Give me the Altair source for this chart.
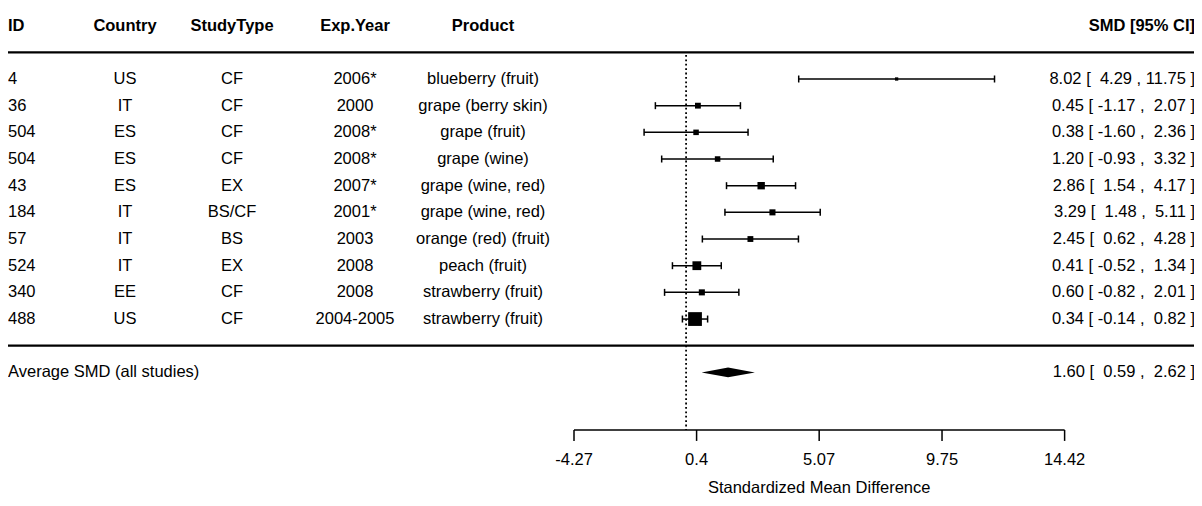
import altair as alt
import pandas as pd

# ---------------- data ----------------
ids = ["4", "36", "504", "504", "43", "184", "57", "524", "340", "488"]
countries = ["US", "IT", "ES", "ES", "ES", "IT", "IT", "IT", "EE", "US"]
study_types = ["CF", "CF", "CF", "CF", "EX", "BS/CF", "BS", "EX", "CF", "CF"]
exp_years = ["2006*", "2000", "2008*", "2008*", "2007*", "2001*", "2003", "2008", "2008", "2004-2005"]
products = ["blueberry (fruit)", "grape (berry skin)", "grape (fruit)", "grape (wine)",
            "grape (wine, red)", "grape (wine, red)", "orange (red) (fruit)", "peach (fruit)",
            "strawberry (fruit)", "strawberry (fruit)"]
smd = [8.02, 0.45, 0.38, 1.20, 2.86, 3.29, 2.45, 0.41, 0.60, 0.34]
ci_low = [4.29, -1.17, -1.60, -0.93, 1.54, 1.48, 0.62, -0.52, -0.82, -0.14]
ci_high = [11.75, 2.07, 2.36, 3.32, 4.17, 5.11, 4.28, 1.34, 2.01, 0.82]
weights = [3.0, 5.3, 5.0, 5.0, 6.7, 5.5, 5.3, 8.0, 5.5, 12.5]  # relative study weight (marker side)

avg_label = "Average SMD (all studies)"
avg_smd, avg_low, avg_high = 1.60, 0.59, 2.62

headers = ["ID", "Country", "StudyType", "Exp.Year", "Product", "SMD [95% CI]"]
tick_values = [-4.27, 0.4, 5.07, 9.75, 14.42]
tick_labels = ["-4.27", "0.4", "5.07", "9.75", "14.42"]
x_title = "Standardized Mean Difference"


def ci_text(e, lo, hi):
    return f"{e:.2f} [ {lo:>5.2f} , {hi:>5.2f} ]".replace(" ", "\u00a0")


df = pd.DataFrame({
    "row": list(range(1, len(ids) + 1)),
    "id": ids, "country": countries, "stype": study_types, "year": exp_years,
    "product": products, "smd": smd, "low": ci_low, "high": ci_high, "weight": weights,
    "citext": [ci_text(e, l, h) for e, l, h in zip(smd, ci_low, ci_high)],
})
avg_df = pd.DataFrame({"row": [12], "label": [avg_label], "citext": [ci_text(avg_smd, avg_low, avg_high)]})
diamond_df = pd.DataFrame({"x": [avg_low, avg_smd, avg_high], "half": [0.0, 0.18, 0.0]})
ticks_df = pd.DataFrame({"tick": tick_values, "label": tick_labels})

# ---------------- layout / styling ----------------
W, H = 1186, 490
FONT = "Liberation Sans"
FS = 16.5
AXIS_R, TICK_R, LAB_R, TITLE_R = 14.16, 14.57, 15.29, 16.54
xs = alt.Scale(domain=[-25.832, 19.349], nice=False, zero=False)
ys = alt.Scale(domain=[-1.662, 16.71], reverse=True, nice=False, zero=False)
Yrow = alt.Y("row:Q", scale=ys, axis=None)


def xq(field):
    return alt.X(field, scale=xs, axis=None)


def yq(field):
    return alt.Y(field, scale=ys, axis=None)


base = alt.Chart(df)
layers = []

# table text columns (x positions are layout)
cols = [("id:N", 0, "left"), ("country:N", 117, "center"), ("stype:N", 224, "center"),
        ("year:N", 347, "center"), ("product:N", 475, "center"), ("citext:N", 1187, "right")]
for (field, px, al), head in zip(cols, headers):
    layers.append(base.mark_text(align=al, baseline="middle", font=FONT, fontSize=FS, color="#000").encode(
        x=alt.value(px), y=Yrow, text=field))
    layers.append(alt.Chart(pd.DataFrame({"h": [head], "r": [-1]})).mark_text(
        align=al, baseline="middle", font=FONT, fontSize=FS, fontWeight="bold", color="#000").encode(
        x=alt.value(px), y=yq("r:Q"), text="h:N"))

# horizontal separators
for r in (0, 11):
    layers.append(alt.Chart(pd.DataFrame({"r": [r]})).mark_rule(color="#000", strokeWidth=2.2).encode(
        x=alt.value(0), x2=alt.value(W), y=yq("r:Q")))

# reference dotted line at 0
layers.append(alt.Chart(pd.DataFrame({"v": [0], "a": [0.1], "b": [AXIS_R]})).mark_rule(
    color="#000", strokeWidth=1.8, strokeDash=[1.8, 2.6]).encode(
    x=xq("v:Q"), y=yq("a:Q"), y2="b:Q"))

# CI lines + caps
layers.append(base.mark_rule(color="#000", strokeWidth=1.5).encode(x=xq("low:Q"), x2="high:Q", y=Yrow))
layers.append(base.transform_fold(["low", "high"], as_=["end", "val"]).mark_tick(
    orient="vertical", size=7, thickness=1.5, color="#000", opacity=1).encode(x=xq("val:Q"), y=Yrow))

# squares
layers.append(base.mark_square(filled=True, color="#000", opacity=1).encode(
    x=xq("smd:Q"), y=Yrow,
    size=alt.Size("weight:Q", scale=alt.Scale(type="pow", exponent=2, domain=[0, 12.5], range=[0, 190]),
                  legend=None)))

# average row
layers.append(alt.Chart(avg_df).mark_text(align="left", baseline="middle", font=FONT, fontSize=FS, color="#000").encode(
    x=alt.value(0), y=Yrow, text="label:N"))
layers.append(alt.Chart(avg_df).mark_text(align="right", baseline="middle", font=FONT, fontSize=FS, color="#000").encode(
    x=alt.value(1187), y=Yrow, text="citext:N"))
layers.append(alt.Chart(diamond_df).transform_calculate(
    top="12 - datum.half", bot="12 + datum.half").mark_area(color="#000", opacity=1).encode(
    x=xq("x:Q"), y=yq("top:Q"), y2="bot:Q"))

# custom x axis
tk = alt.Chart(ticks_df)
layers.append(alt.Chart(pd.DataFrame({"a": [tick_values[0]], "b": [tick_values[-1]], "r": [AXIS_R]})).mark_rule(
    color="#000", strokeWidth=1.5).encode(x=xq("a:Q"), x2="b:Q", y=yq("r:Q")))
layers.append(tk.transform_calculate(a=str(AXIS_R), b=str(TICK_R)).mark_rule(color="#000", strokeWidth=1.5).encode(
    x=xq("tick:Q"), y=yq("a:Q"), y2="b:Q"))
layers.append(tk.transform_calculate(r=str(LAB_R)).mark_text(baseline="middle", font=FONT, fontSize=FS, color="#000").encode(
    x=xq("tick:Q"), y=yq("r:Q"), text="label:N"))
layers.append(alt.Chart(pd.DataFrame({"t": [x_title], "v": [tick_values[2]], "r": [TITLE_R]})).mark_text(
    baseline="alphabetic", font=FONT, fontSize=FS, color="#000").encode(
    x=xq("v:Q"), y=yq("r:Q"), text="t:N"))

chart = alt.layer(*layers).properties(
    width=W, height=H, padding=0, autosize=alt.AutoSizeParams(type="none"), background="white"
).configure_view(stroke=None)

chart.save("out.html", embed_options={"renderer": "svg", "actions": False})
